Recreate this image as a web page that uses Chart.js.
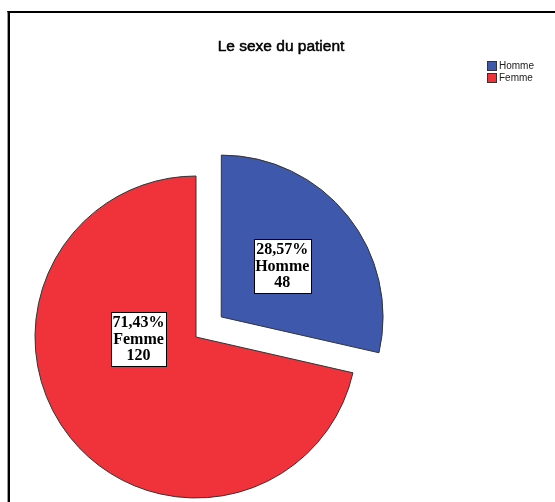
<!DOCTYPE html>
<html>
<head>
<meta charset="utf-8">
<script src="https://cdn.jsdelivr.net/npm/chart.js@4/dist/chart.umd.min.js"></script>
<style>
  html, body { margin: 0; padding: 0; background: #fff; }
  #wrap { position: relative; width: 555px; height: 502px; overflow: hidden; background: #fff; }
  #frame { position: absolute; left: 7px; top: 11px; width: 600px; height: 600px;
           border-left: 1px solid #999; border-top: 2px solid #000; box-sizing: border-box; }
  #frame2 { position: absolute; left: 8px; top: 11px; width: 2px; height: 600px; background: #000; }
  canvas { position: absolute; left: 0; top: 0; }
</style>
</head>
<body>
<div id="wrap">
  <div id="frame"></div>
  <div id="frame2"></div>
  <canvas id="c" width="555" height="502"></canvas>
</div>
<script>
// ---- data ----
const chartTitle = "Le sexe du patient";
const categories = ["Homme", "Femme"];
const counts = [48, 120];
const sliceColors = ["#3E58AC", "#F0323B"];
const explode = [129, 0];           // Chart.js arc offset (Homme pulled out)
// label placement (angle clockwise from 12 o'clock, fraction of radius)
const labelAngles = [50, 268.5];
const labelRadiusFrac = [0.49, 0.357];

const total = counts.reduce((a, b) => a + b, 0);
const pctText = counts.map(v => (v / total * 100).toFixed(2).replace('.', ',') + '%');

const decorPlugin = {
  id: 'decor',
  afterDatasetsDraw(chart) {
    const ctx = chart.ctx;
    const meta = chart.getDatasetMeta(0);
    ctx.save();
    meta.data.forEach((arc, i) => {
      const p = arc.getProps(['x', 'y', 'startAngle', 'endAngle', 'outerRadius', 'circumference'], true);
      const off = (explode[i] || 0) / 4;
      const half = (p.startAngle + p.endAngle) / 2;
      const fix = 1 - Math.sin(Math.min(Math.PI, p.circumference || 0));
      const t = off * (1 + fix);
      const cx = p.x + Math.cos(half) * t;
      const cy = p.y + Math.sin(half) * t;
      const a = labelAngles[i] * Math.PI / 180;
      const r = p.outerRadius * labelRadiusFrac[i];
      const lx = cx + Math.sin(a) * r;
      const ly = cy - Math.cos(a) * r;
      const lines = [pctText[i], categories[i], String(counts[i])];
      ctx.font = 'bold 16px "Liberation Serif", "Times New Roman", serif';
      const w = Math.max(...lines.map(s => ctx.measureText(s).width)) + 3;
      const lh = 16.5;
      const h = lh * 3 + 4;
      const bx = Math.round(lx - w / 2) + 0.5;
      const by = Math.round(ly - h / 2) + 0.5;
      ctx.fillStyle = '#fff';
      ctx.fillRect(bx, by, Math.round(w), Math.round(h));
      ctx.strokeStyle = '#000';
      ctx.lineWidth = 1;
      ctx.strokeRect(bx, by, Math.round(w), Math.round(h));
      ctx.fillStyle = '#000';
      ctx.textAlign = 'center';
      ctx.textBaseline = 'middle';
      lines.forEach((s, k) => {
        ctx.fillText(s, lx, ly + (k - 1) * lh + 1);
      });
    });
    // title
    ctx.font = '15.5px "Liberation Sans", Arial, sans-serif';
    ctx.fillStyle = '#000';
    ctx.strokeStyle = '#000';
    ctx.lineWidth = 0.5;
    ctx.textAlign = 'center';
    ctx.textBaseline = 'alphabetic';
    ctx.fillText(chartTitle, 281, 51);
    ctx.strokeText(chartTitle, 281, 51);
    // legend
    ctx.font = '10px "Liberation Sans", Arial, sans-serif';
    ctx.textAlign = 'left';
    ctx.textBaseline = 'middle';
    categories.forEach((c, i) => {
      const y = 61.5 + i * 12;
      ctx.fillStyle = sliceColors[i];
      ctx.fillRect(487.5, y, 9, 9);
      ctx.strokeStyle = '#333';
      ctx.lineWidth = 1;
      ctx.strokeRect(487.5, y, 9, 9);
      ctx.fillStyle = '#222';
      ctx.fillText(c, 499, y + 5);
    });
    ctx.restore();
  }
};

new Chart(document.getElementById('c'), {
  type: 'pie',
  data: {
    labels: categories,
    datasets: [{
      data: counts,
      backgroundColor: sliceColors,
      borderColor: '#333',
      borderWidth: 1,
      offset: explode,
      radius: 161
    }]
  },
  options: {
    responsive: false,
    animation: false,
    layout: { padding: { left: 0, right: 163, top: 172, bottom: 0 } },
    plugins: {
      legend: { display: false },
      title: { display: false },
      tooltip: { enabled: false }
    }
  },
  plugins: [decorPlugin]
});
</script>
</body>
</html>
